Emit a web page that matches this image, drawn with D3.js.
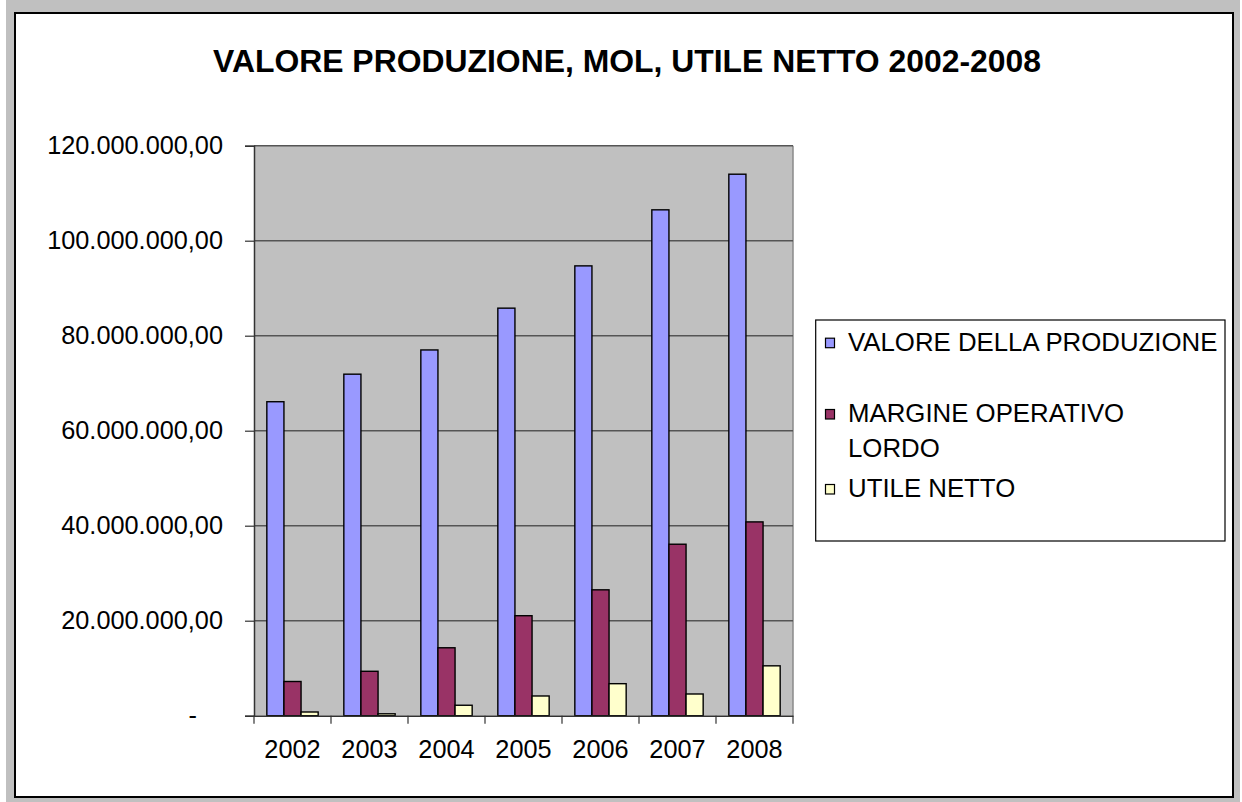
<!DOCTYPE html>
<html><head><meta charset="utf-8">
<script src="https://cdn.jsdelivr.net/npm/d3@7"></script>
<style>
html,body{margin:0;padding:0;background:#fff;}
svg{display:block;font-family:"Liberation Sans",Arial,sans-serif;}
</style></head>
<body>
<svg id="chart" width="1242" height="802"></svg>
<script>
const title = "VALORE PRODUZIONE, MOL, UTILE NETTO 2002-2008";
const years = ["2002","2003","2004","2005","2006","2007","2008"];
const seriesNames = ["VALORE DELLA PRODUZIONE","MARGINE OPERATIVO LORDO","UTILE NETTO"];
const legendLines = [["VALORE DELLA PRODUZIONE"],["MARGINE OPERATIVO","LORDO"],["UTILE NETTO"]];
const valoreProduzione = [66100000, 71900000, 77000000, 85800000, 94700000, 106500000, 114000000];
const margineOperativo = [7200000, 9350000, 14300000, 21050000, 26500000, 36100000, 40800000];
const utileNetto = [780000, 400000, 2200000, 4150000, 6740000, 4570000, 10500000];
const yTicks = [0, 20000000, 40000000, 60000000, 80000000, 100000000, 120000000];
const colors = ["#9999ff","#993366","#ffffcc"];

const seriesValues = [valoreProduzione, margineOperativo, utileNetto];
const svg = d3.select("#chart");

// outer gray background and chart frame
svg.append("rect").attr("x",6).attr("y",0).attr("width",1234).attr("height",802).attr("fill","#c0c0c0");
svg.append("rect").attr("x",15).attr("y",13).attr("width",1218).attr("height",784)
  .attr("fill","#fff").attr("stroke","#000").attr("stroke-width",2);

// title
svg.append("text").attr("x",627).attr("y",72).attr("text-anchor","middle")
  .attr("font-size",32).attr("font-weight","bold").attr("fill","#000")
  .attr("textLength",828).attr("lengthAdjust","spacingAndGlyphs").text(title);

const plot = {left:254, right:793, top:145.7, bottom:715.7};
const x0 = d3.scaleBand().domain(years).range([plot.left, plot.right]).padding(0);
const bw = x0.bandwidth();
const barW = bw/4.5;
const x1 = d3.scaleBand().domain(d3.range(3)).range([barW*0.75, barW*0.75 + 3*barW]).padding(0);
const y = d3.scaleLinear().domain([0,120000000]).range([plot.bottom, plot.top]);

// plot background
svg.append("rect").attr("x",plot.left).attr("y",plot.top).attr("width",plot.right-plot.left)
  .attr("height",plot.bottom-plot.top).attr("fill","#c0c0c0");
// right border
svg.append("line").attr("x1",plot.right).attr("x2",plot.right).attr("y1",plot.top).attr("y2",plot.bottom)
  .attr("stroke","#8a8a8a").attr("stroke-width",1.5);

// gridlines
svg.append("g").selectAll("line").data(yTicks.filter(d=>d>0)).join("line")
  .attr("x1",plot.left).attr("x2",plot.right).attr("y1",d=>y(d)).attr("y2",d=>y(d))
  .attr("stroke","#555").attr("stroke-width",1.5);

// bars
const fmt = v => {
  if (v===0) return "-";
  const s = d3.format(",.2f")(v);
  return s.replace(/,/g,"#").replace(".",",").replace(/#/g,".");
};
const groups = svg.append("g").selectAll("g").data(years).join("g")
  .attr("transform",d=>`translate(${x0(d)},0)`);
groups.selectAll("rect").data((d,i)=>seriesValues.map((s,k)=>({k, v:s[i]}))).join("rect")
  .attr("x",d=>x1(d.k)).attr("width",x1.bandwidth())
  .attr("y",d=>y(d.v)).attr("height",d=>y(0)-y(d.v))
  .attr("fill",d=>colors[d.k]).attr("stroke","#000").attr("stroke-width",1.4);

// y axis
const yAxis = svg.append("g").attr("transform",`translate(${plot.left},0)`)
  .call(d3.axisLeft(y).tickValues(yTicks).tickFormat(fmt).tickSize(9).tickPadding(22));
yAxis.select(".domain").attr("stroke","#333").attr("stroke-width",1.5);
yAxis.selectAll(".tick line").attr("stroke","#333").attr("stroke-width",1.2);
yAxis.selectAll(".tick text").attr("font-size",25.3).attr("fill","#000")
  .attr("font-family","'Liberation Sans',Arial,sans-serif")
  .attr("dx",d=>d===0?-26:0);

// x axis
const xAxis = svg.append("g").attr("transform",`translate(0,${plot.bottom})`)
  .call(d3.axisBottom(x0).tickSize(0).tickPadding(24));
xAxis.select(".domain").attr("stroke","#333").attr("stroke-width",1.5);
xAxis.selectAll(".tick text").attr("font-size",25.3).attr("fill","#000")
  .attr("font-family","'Liberation Sans',Arial,sans-serif");
svg.append("g").selectAll("line").data(years.concat(["end"])).join("line")
  .attr("x1",(d,i)=>plot.left + i*bw).attr("x2",(d,i)=>plot.left + i*bw)
  .attr("y1",plot.bottom).attr("y2",plot.bottom+8)
  .attr("stroke","#333").attr("stroke-width",1.2);

// legend
const lg = svg.append("g");
lg.append("rect").attr("x",815.7).attr("y",320).attr("width",409.3).attr("height",221)
  .attr("fill","#fff").attr("stroke","#000").attr("stroke-width",1.2);
const baselines = [350.7, 422, 497];
legendLines.forEach((lines,i)=>{
  lg.append("rect").attr("x",825.5).attr("y",baselines[i]-12.5).attr("width",9).attr("height",9.5)
    .attr("fill",colors[i]).attr("stroke","#000").attr("stroke-width",1.2);
  const t = lg.append("text").attr("x",848).attr("y",baselines[i]).attr("font-size",25.8).attr("fill","#000");
  lines.forEach((ln,j)=>{
    t.append("tspan").attr("x",848).attr("dy",j===0?0:34.7).text(ln);
  });
});
</script>
</body></html>
